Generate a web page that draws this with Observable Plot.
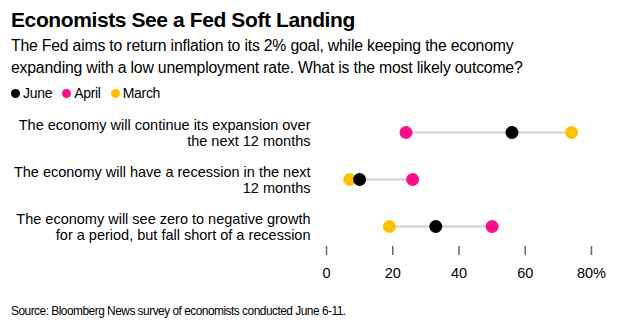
<!DOCTYPE html>
<html>
<head>
<meta charset="utf-8">
<script src="https://cdn.jsdelivr.net/npm/d3@7"></script>
<script src="https://cdn.jsdelivr.net/npm/@observablehq/plot@0.6"></script>
<style>
  html, body { margin: 0; padding: 0; background: #fff; }
  body { width: 633px; height: 327px; overflow: hidden; font-family: "Liberation Sans", Arial, sans-serif; color: #000; }
  #wrap { padding: 8px 0 0 11px; }
  h1 { margin: 0; font-size: 21px; font-weight: bold; letter-spacing: -0.4px; line-height: 24px; }
  .sub { margin: 3px 0 0 0; font-size: 15.8px; line-height: 22px; letter-spacing: -0.2px; }
  .legend { margin-top: 5px; display: flex; gap: 10px; font-size: 14px; line-height: 18px; letter-spacing: -0.3px; }
  .legend span { display: inline-flex; align-items: center; }
  .legend i { display: inline-block; width: 9px; height: 9px; border-radius: 50%; margin-right: 3px; }
  #chart { margin-top: 3px; }
  .caption { font-size: 11.9px; letter-spacing: -0.5px; margin-top: 16px; }
</style>
</head>
<body>
<div id="wrap">
  <h1>Economists See a Fed Soft Landing</h1>
  <div class="sub">The Fed aims to return inflation to its 2% goal, while keeping the economy<br>expanding with a low unemployment rate. What is the most likely outcome?</div>
  <div class="legend" id="legend"></div>
  <div id="chart"></div>
  <div class="caption">Source: Bloomberg News survey of economists conducted June 6-11.</div>
</div>
<script>
const outcomes = [
  "The economy will continue its expansion over\nthe next 12 months",
  "The economy will have a recession in the next\n12 months",
  "The economy will see zero to negative growth\nfor a period, but fall short of a recession"
];
const surveys = ["June", "April", "March"];
const surveyColors = ["#000000", "#fc0d8a", "#ffc000"];
const juneValues = [56, 10, 33];
const aprilValues = [24, 26, 50];
const marchValues = [74, 7, 19];
const xTicks = [0, 20, 40, 60, 80];

const seriesValues = [juneValues, aprilValues, marchValues];
const points = [];
surveys.forEach((s, si) => outcomes.forEach((o, oi) => points.push({survey: s, outcome: o, value: seriesValues[si][oi]})));
const drawOrder = ["March", "April", "June"];
const ordered = drawOrder.flatMap(s => points.filter(p => p.survey === s));
const ranges = outcomes.map((o, oi) => {
  const vals = seriesValues.map(v => v[oi]);
  return {outcome: o, lo: d3.min(vals), hi: d3.max(vals)};
});

const legend = document.getElementById("legend");
surveys.forEach((s, i) => {
  const el = document.createElement("span");
  el.innerHTML = `<i style="background:${surveyColors[i]}"></i>${s}`;
  legend.appendChild(el);
});

const chart = Plot.plot({
  width: 622,
  height: 183,
  marginLeft: 315,
  marginRight: 42,
  marginTop: 0,
  marginBottom: 42,
  style: {fontFamily: "Liberation Sans, Arial, sans-serif", fontSize: "14px", color: "#000", background: "#fff"},
  x: {domain: [0, 80], ticks: xTicks},
  y: {type: "point", domain: outcomes, range: [27, 121], padding: 0, axis: null},
  color: {domain: surveys, range: surveyColors},
  marks: [
    Plot.axisX({
      ticks: xTicks,
      tickSize: 9,
      tickPadding: 12,
      stroke: "#666",
      strokeWidth: 1.5,
      fontSize: 14.5,
      label: null,
      tickFormat: d => d === 80 ? "80%" : String(d)
    }),
    Plot.text(outcomes, {
      x: 0, y: d => d, text: d => d,
      textAnchor: "end", dx: -16,
      fontSize: 14.5, lineHeight: 1.15, fill: "#000"
    }),
    Plot.ruleY(ranges, {y: "outcome", x1: "lo", x2: "hi", stroke: "#dcdcdc", strokeWidth: 3}),
    Plot.dot(ordered, {x: "value", y: "outcome", fill: "survey", r: 6.5, stroke: "none"})
  ]
});
document.getElementById("chart").appendChild(chart);
</script>
</body>
</html>
